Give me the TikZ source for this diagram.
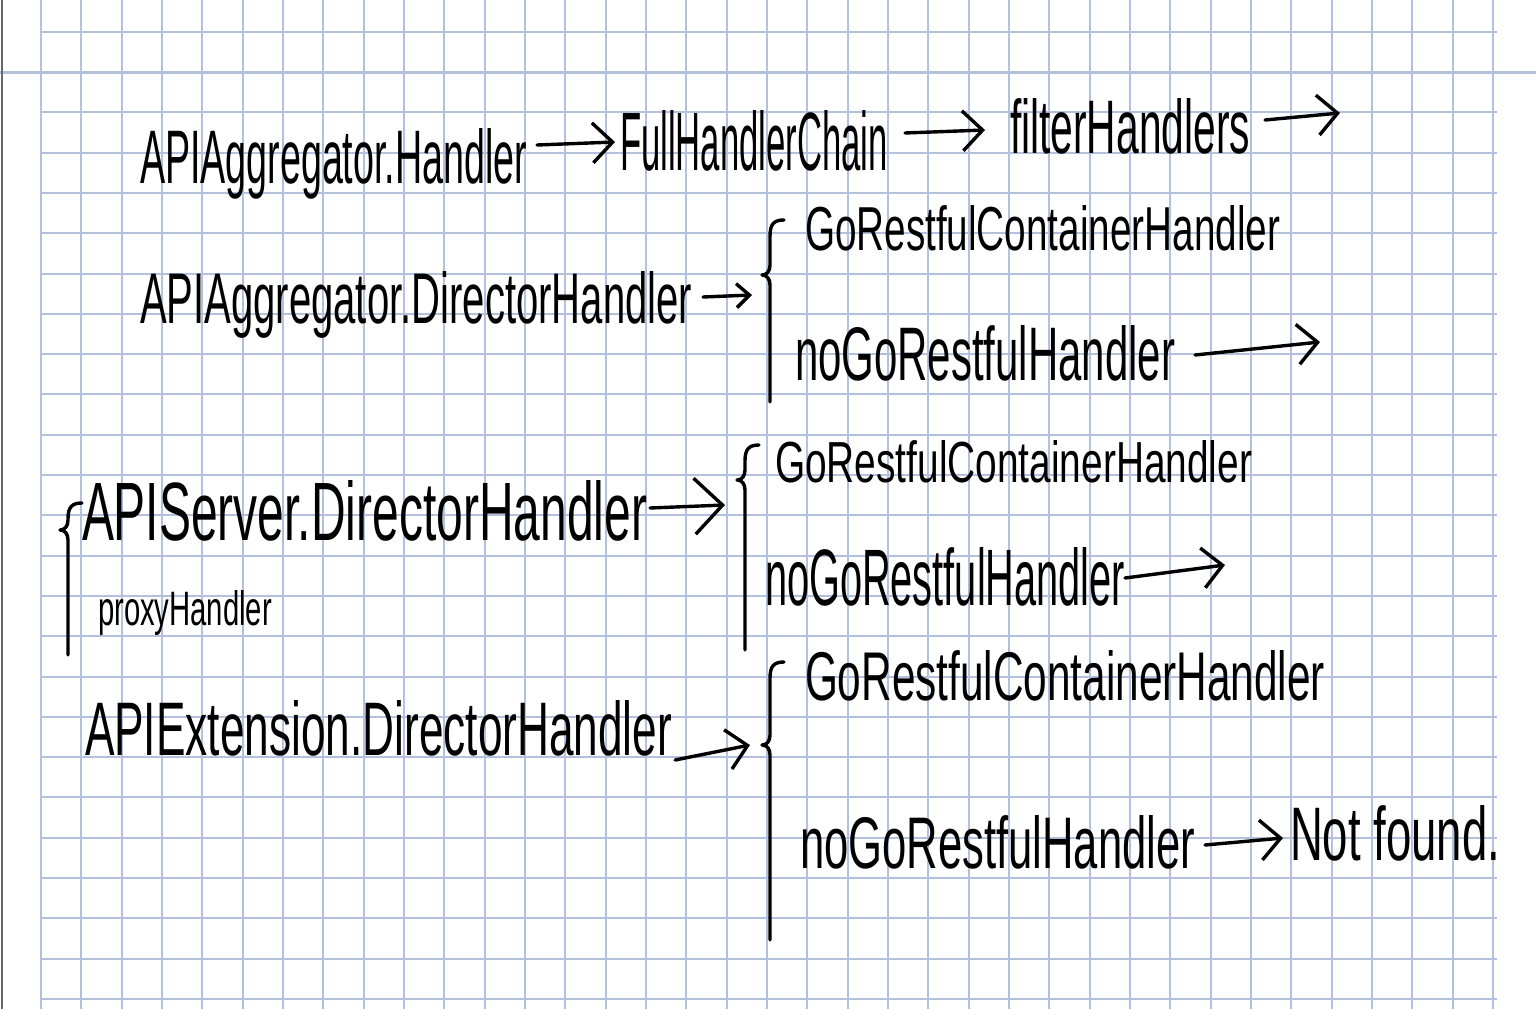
\documentclass[tikz,border=0pt]{standalone}
\usepackage{fontspec}
\usepackage{graphicx}
\newfontfamily\handfont{Liberation Sans}
\usetikzlibrary{arrows.meta}
\definecolor{gridblue}{RGB}{180,193,222}
\definecolor{bordergray}{RGB}{105,105,105}
\newcommand\hw[3]{\resizebox{#1pt}{#2pt}{\handfont #3}}
\newcommand\hbrace[4]{%
  \draw[hstroke] (#1+14,#2) .. controls (#1+4,#2) and (#1,#2+4) .. (#1,#2+16)
    -- (#1,#3-10) .. controls (#1,#3-4) and (#1-3,#3) .. (#1-8,#3)
    .. controls (#1-3,#3) and (#1,#3+4) .. (#1,#3+10) -- (#1,#4);}
\tikzset{
  gridline/.style={draw=gridblue, line width=2pt},
  hstroke/.style={draw=black, line width=3.4pt, line cap=round, line join=round},
  harrow/.style={hstroke, -{Straight Barb[length=20pt,width=40pt]}},
  smallarrow/.style={hstroke, -{Straight Barb[length=13pt,width=24pt]}},
  bigarrow/.style={hstroke, -{Straight Barb[length=28pt,width=56pt]}},
  htext/.style={anchor=base west, inner sep=0pt, outer sep=0pt, text=black}
}
\begin{document}
\begin{tikzpicture}[x=1pt,y=-1pt]
\useasboundingbox (0,0) rectangle (1536,1009);
\fill[white] (0,0) rectangle (1536,1009);
% grid paper
\foreach \i in {0,...,36} \draw[gridline] (41+40.33*\i,0) -- (41+40.33*\i,1009);
\foreach \j in {0,...,24} \draw[gridline] (41,31.7+40.3*\j) -- (1497,31.7+40.3*\j);
\draw[gridline, line width=3pt] (0,72) -- (1536,72);
\draw[draw=bordergray, line width=2pt] (1.5,0) -- (1.5,1009);

% row 1
\node[htext] (t1) at (140,183) {\hw{387}{55}{APIAggregator.Handler}};
\node[htext] (t2) at (620,170) {\hw{268}{60}{FullHandlerChain}};
\node[htext] (t3) at (1010,153) {\hw{240}{55}{filterHandlers}};
\coordinate (e3) at (1340,113);
\draw[harrow] ([shift={(10,-38)}]t1.base east) -- ([shift={(-5,-28)}]t2.base west);
\draw[harrow] ([shift={(17,-37)}]t2.base east) -- ([shift={(-25,-23)}]t3.base west);
\draw[harrow] ([shift={(15,-33)}]t3.base east) -- (e3);

% row 2
\node[htext] (t4) at (140,323) {\hw{552}{52}{APIAggregator.DirectorHandler}};
\coordinate (b2) at (762,275);
\hbrace{770}{220}{275}{402}
\node[htext] (t5) at (805,250) {\hw{475}{45}{GoRestfulContainerHandler}};
\node[htext] (t6) at (795,380) {\hw{380}{55}{noGoRestfulHandler}};
\coordinate (e6) at (1320,342);
\draw[smallarrow] ([shift={(11,-26)}]t4.base east) -- ([shift={(-10,20)}]b2);
\draw[harrow] ([shift={(20,-25)}]t6.base east) -- (e6);

% row 3
\hbrace{68}{503}{530}{655}
\node[htext] (t7) at (82,540) {\hw{565}{60}{APIServer.DirectorHandler}};
\node[htext] (t8) at (98,625) {\hw{174}{35}{proxyHandler}};
\coordinate (b3) at (737,480);
\hbrace{745}{445}{480}{650}
\node[htext] (t9) at (775,482) {\hw{477}{42}{GoRestfulContainerHandler}};
\node[htext] (t10) at (765,605) {\hw{360}{58}{noGoRestfulHandler}};
\coordinate (e10) at (1225,565);
\draw[bigarrow] ([shift={(3,-32)}]t7.base east) -- ([shift={(-12,25)}]b3);
\draw[harrow] ([shift={(0,-27)}]t10.base east) -- (e10);

% row 4
\node[htext] (t11) at (85,755) {\hw{587}{55}{APIExtension.DirectorHandler}};
\coordinate (b4) at (762,745);
\hbrace{770}{662}{745}{940}
\node[htext] (t12) at (805,700) {\hw{520}{50}{GoRestfulContainerHandler}};
\node[htext] (t13) at (800,868) {\hw{395}{53}{noGoRestfulHandler}};
\node[htext] (t14) at (1290,860) {\hw{210}{55}{Not found.}};
\draw[harrow] ([shift={(3,5)}]t11.base east) -- ([shift={(-12,0)}]b4);
\draw[harrow] ([shift={(10,-23)}]t13.base east) -- ([shift={(-7,-22)}]t14.base west);
\end{tikzpicture}
\end{document}
